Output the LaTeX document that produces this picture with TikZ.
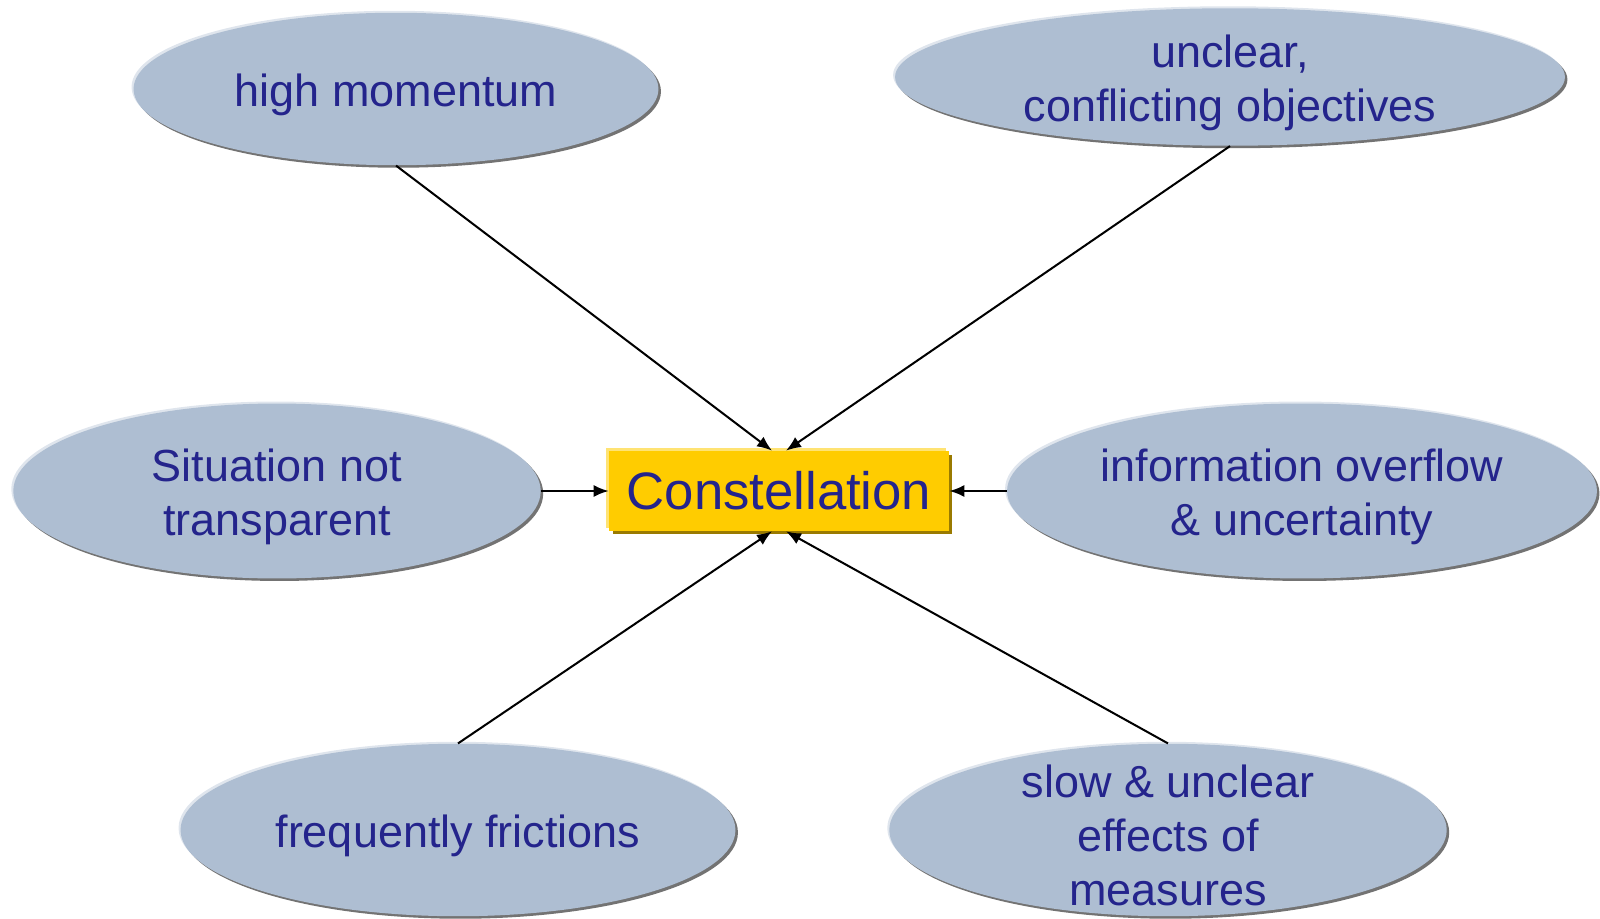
\documentclass[tikz,border=0pt]{standalone}
\usepackage{fontspec}
\setmainfont{Liberation Sans}
\usetikzlibrary{shapes.geometric}
\usetikzlibrary{shadows}
\usetikzlibrary{arrows.meta}
\definecolor{bluegrey}{HTML}{AEBED2}
\definecolor{inkblue}{HTML}{24248C}
\definecolor{gold}{HTML}{FFCC00}
\definecolor{darkgold}{HTML}{9A7A00}
\tikzset{x=0.02cm,y=-0.02cm,
    blob/.style={
        ellipse,
        fill=bluegrey,
        inner sep=0pt,
        general shadow={shadow xshift=-0.04cm,shadow yshift=0.04cm,fill=bluegrey!40!white},
        general shadow={shadow xshift=0.05cm,shadow yshift=-0.05cm,fill=black!55}},
    blobtext/.style={
        align=center,
        yshift=-0.11cm,
        text=inkblue,
        font=\fontsize{25.6}{30.7}\selectfont},
    centre/.style={
        rectangle,
        fill=gold,
        text=inkblue,
        minimum width=6.8cm,
        minimum height=1.6cm,
        font=\fontsize{30}{36}\selectfont,
        general shadow={shadow xshift=-0.06cm,shadow yshift=0.06cm,fill=gold!55!white},
        general shadow={shadow xshift=0.07cm,shadow yshift=-0.07cm,fill=darkgold}},
    every edge/.style={
        draw,
        -{Latex[length=0.3cm,width=0.24cm]},
        line width=1.15pt}}
\begin{document}
\begin{tikzpicture}
        \useasboundingbox (0,0) rectangle (1600,919);

        \node[centre] (0) at (779,491) {Constellation};
        \node[blob,minimum width=10.5cm,minimum height=3.05cm,
            label={[blobtext]center:high momentum}] (1) at (396,89) {};
        \node[blob,minimum width=13.4cm,minimum height=2.75cm,
            label={[blobtext]center:unclear,\\conflicting objectives}] (2) at (1230,77) {};
        \node[blob,minimum width=10.55cm,minimum height=3.5cm,
            label={[blobtext]center:Situation not\\transparent}] (3) at (277,491) {};
        \node[blob,minimum width=11.8cm,minimum height=3.5cm,
            label={[blobtext]center:information overflow\\\& uncertainty}] (4) at (1302,491) {};
        \node[blob,minimum width=11.1cm,minimum height=3.45cm,
            label={[blobtext]center:frequently frictions}] (5) at (458,830) {};
        \node[blob,minimum width=11.15cm,minimum height=3.45cm,
            label={[blobtext]center:slow \& unclear\\effects of\\measures}] (6) at (1168,830) {};

        \path (1.south) edge ([xshift=-0.14cm]0.north)
              (2.south) edge ([xshift=0.14cm]0.north)
              (3.east) edge (0.west)
              (4.west) edge (0.east)
              (5.north) edge ([xshift=-0.14cm]0.south)
              (6.north) edge ([xshift=0.14cm]0.south);
    \end{tikzpicture}
\end{document}
